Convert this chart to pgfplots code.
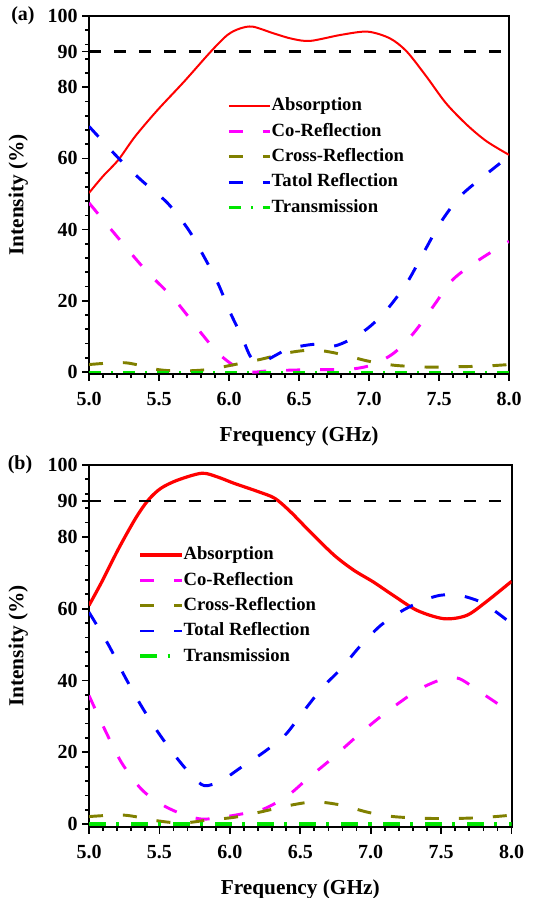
\documentclass[border=0pt]{standalone}
\usepackage{pgfplots}
\pgfplotsset{compat=1.18}
\usepackage{fontspec}
\setmainfont{Liberation Serif}

\definecolor{cabs}{RGB}{255,0,0}
\definecolor{cco}{RGB}{255,0,255}
\definecolor{ccross}{RGB}{128,128,0}
\definecolor{ctot}{RGB}{0,0,255}
\definecolor{ctr}{RGB}{0,230,0}

\pgfplotsset{
 panel/.style={
 scale only axis,
 anchor=south west,
 xmin=5, xmax=8, ymax=100,
 xtick={5,5.5,6,6.5,7,7.5,8},
 xticklabels={5.0,5.5,6.0,6.5,7.0,7.5,8.0},
 minor x tick num=4,
 ytick={0,20,40,60,80,90,100},
 minor ytick={4,8,12,16,24,28,32,36,44,48,52,56,64,68,72,76,84,88,92,96},
 tick align=outside,
 xtick pos=bottom, ytick pos=left,
 major tick length=5pt, minor tick length=3pt,
 every tick/.style={black, line width=1.3pt},
 axis line style={line width=1.5pt},
 /pgf/number format/assume math mode=true,
 ticklabel style={font=\bfseries\fontsize{15}{15}\selectfont},
 xticklabel style={yshift=-5pt},
 xlabel={Frequency (GHz)},
 ylabel={Intensity (\%)},
 label style={font=\bfseries\fontsize{16}{16}\selectfont},
 xlabel style={at={(rel axis cs:0.5,0)}, anchor=center, yshift=-46.5pt},
 ylabel style={at={(rel axis cs:0,0.5)}, anchor=center, yshift=53pt},
 legend style={draw=none, fill=none, inner sep=0pt, row sep=6pt,
 font=\bfseries\fontsize{14}{14}\selectfont,
 nodes={inner sep=0pt, text height=10pt, text depth=3pt},
 /tikz/every even column/.append style={column sep=5pt}},
 legend cell align=left,
 legend image code/.code={\draw[#1] (0pt,0pt) -- (31pt,0pt);},
 },
 dsh/.style={dash pattern=on 10.5pt off 15pt},
}

\begin{document}
\begin{tikzpicture}

% (a)
\begin{axis}[panel, at={(66.75pt,393pt)}, width=315pt, height=268.5pt, ymin=-0.55,
 legend style={at={(0.329,0.773)}, anchor=north west}]
\addplot[cabs, line width=1.5pt, smooth] coordinates {
(5.00,50.3)(5.10,55.0)(5.21,59.6)(5.33,66.2)(5.49,73.6)(5.68,81.6)(5.87,90.0)(5.99,94.7)
(6.08,96.5)(6.17,97.0)(6.32,95.1)(6.45,93.6)(6.58,93.0)(6.80,94.7)(6.99,95.6)(7.15,93.7)
(7.27,90.0)(7.41,83.0)(7.55,75.5)(7.70,69.4)(7.84,64.8)(8.00,61.0)};
\addlegendentry{Absorption}
\addplot[cco, line width=2.2pt, dsh, smooth] coordinates {
(5.00,47.5)(5.18,39.0)(5.40,28.8)(5.61,20.4)(5.80,11.0)(5.92,5.4)(6.04,1.7)(6.16,0.0)
(6.27,0.3)(6.51,0.6)(6.75,0.7)(6.89,0.9)(7.03,2.1)(7.18,5.4)(7.32,11.0)(7.46,18.5)
(7.60,26.0)(7.79,31.6)(8.00,36.7)};
\addlegendentry{Co-Reflection}
\addplot[ccross, line width=2.2pt, dsh, smooth] coordinates {
(5.00,2.1)(5.26,2.6)(5.49,0.7)(5.66,0.3)(5.85,0.7)(6.04,2.1)(6.23,3.6)(6.42,5.4)
(6.61,6.2)(6.80,5.0)(6.99,3.1)(7.18,1.9)(7.41,1.4)(7.65,1.5)(7.84,1.7)(8.00,2.1)};
\addlegendentry{Cross-Reflection}
\addplot[ctot, line width=2.2pt, dsh, smooth] coordinates {
(5.00,69.0)(5.21,60.1)(5.37,54.0)(5.56,47.5)(5.71,40.0)(5.82,32.5)(5.92,25.0)(6.01,16.6)
(6.09,10.1)(6.16,4.0)(6.25,3.1)(6.42,6.4)(6.61,7.8)(6.75,7.3)(6.89,9.6)(7.01,12.9)
(7.13,17.6)(7.27,25.0)(7.39,33.5)(7.51,41.9)(7.65,49.3)(7.82,55.0)(8.00,60.6)};
\addlegendentry{Tatol Reflection}
\addplot[ctr, line width=1.8pt, dash pattern=on 9pt off 7.5pt on 1.5pt off 7.5pt] coordinates {
(5.0,0)(5.5,0)(6.0,0)(6.5,0)(7.0,0)(7.5,0)(8.0,0)};
\addlegendentry{Transmission}
\addplot[black, line width=1.8pt, dash pattern=on 9pt off 9.75pt, forget plot] coordinates {
(5.0,90)(8.0,90)};
\end{axis}

% (b)
\begin{axis}[panel, at={(66.75pt,53.25pt)}, width=316.9pt, height=271.5pt, ymin=-0.8,
 legend style={at={(0.116,0.776)}, anchor=north west}]
\addplot[cabs, line width=2.4pt, smooth] coordinates {
(5.00,60.9)(5.09,67.4)(5.21,76.7)(5.33,85.1)(5.42,90.2)(5.51,93.5)(5.63,95.8)(5.80,97.7)
(5.91,96.7)(6.03,94.9)(6.20,92.6)(6.32,90.7)(6.43,87.0)(6.57,81.4)(6.74,74.9)(6.88,70.7)
(7.02,67.4)(7.16,63.7)(7.33,59.5)(7.52,57.2)(7.68,58.1)(7.82,61.9)(8.00,67.6)};
\addlegendentry{Absorption}
\addplot[cco, line width=2.2pt, dsh, smooth] coordinates {
(5.00,35.8)(5.11,26.5)(5.23,17.2)(5.37,9.8)(5.51,5.6)(5.66,2.8)(5.80,1.4)(5.94,1.9)
(6.08,2.8)(6.24,4.2)(6.41,7.9)(6.55,12.6)(6.72,18.1)(6.88,23.7)(7.05,29.3)(7.21,34.0)
(7.35,37.7)(7.52,40.5)(7.63,40.5)(7.78,36.7)(7.92,33.0)(8.00,30.2)};
\addlegendentry{Co-Reflection}
\addplot[ccross, line width=2.2pt, dsh, smooth] coordinates {
(5.00,2.1)(5.25,2.5)(5.49,0.9)(5.66,0.3)(5.84,1.1)(6.03,1.9)(6.22,3.4)(6.41,5.1)
(6.60,6.2)(6.79,5.3)(6.98,3.3)(7.16,2.1)(7.40,1.6)(7.63,1.6)(7.82,1.9)(8.00,2.5)};
\addlegendentry{Cross-Reflection}
\addplot[ctot, line width=2.2pt, dsh, smooth] coordinates {
(5.00,59.0)(5.14,49.8)(5.25,41.4)(5.37,33.0)(5.49,25.6)(5.61,19.1)(5.73,13.5)(5.82,10.7)
(5.94,12.1)(6.08,15.8)(6.24,20.0)(6.39,24.7)(6.50,30.2)(6.65,37.7)(6.79,43.3)(6.93,49.8)
(7.07,55.3)(7.21,59.1)(7.35,61.9)(7.49,63.7)(7.63,63.7)(7.78,61.9)(7.89,59.1)(8.00,55.8)};
\addlegendentry{Total Reflection}
\addplot[ctr, line width=3pt, dash pattern=on 12.5pt off 8pt on 2pt off 9pt] coordinates {
(5.0,0)(5.5,0)(6.0,0)(6.5,0)(7.0,0)(7.5,0)(8.0,0)};
\addlegendentry{Transmission}
\addplot[black, line width=1.8pt, dash pattern=on 9pt off 9.75pt, forget plot] coordinates {
(5.0,90)(8.0,90)};
\end{axis}

\node[font=\bfseries\fontsize{15}{15}\selectfont] at (17.25pt,661.5pt) {(a)};
\node[font=\bfseries\fontsize{15}{15}\selectfont] at (15pt,324.75pt) {(b)};

\pgfresetboundingbox
\path[use as bounding box] (0pt,0pt) rectangle (413.25pt,673.5pt);
\end{tikzpicture}
\end{document}
